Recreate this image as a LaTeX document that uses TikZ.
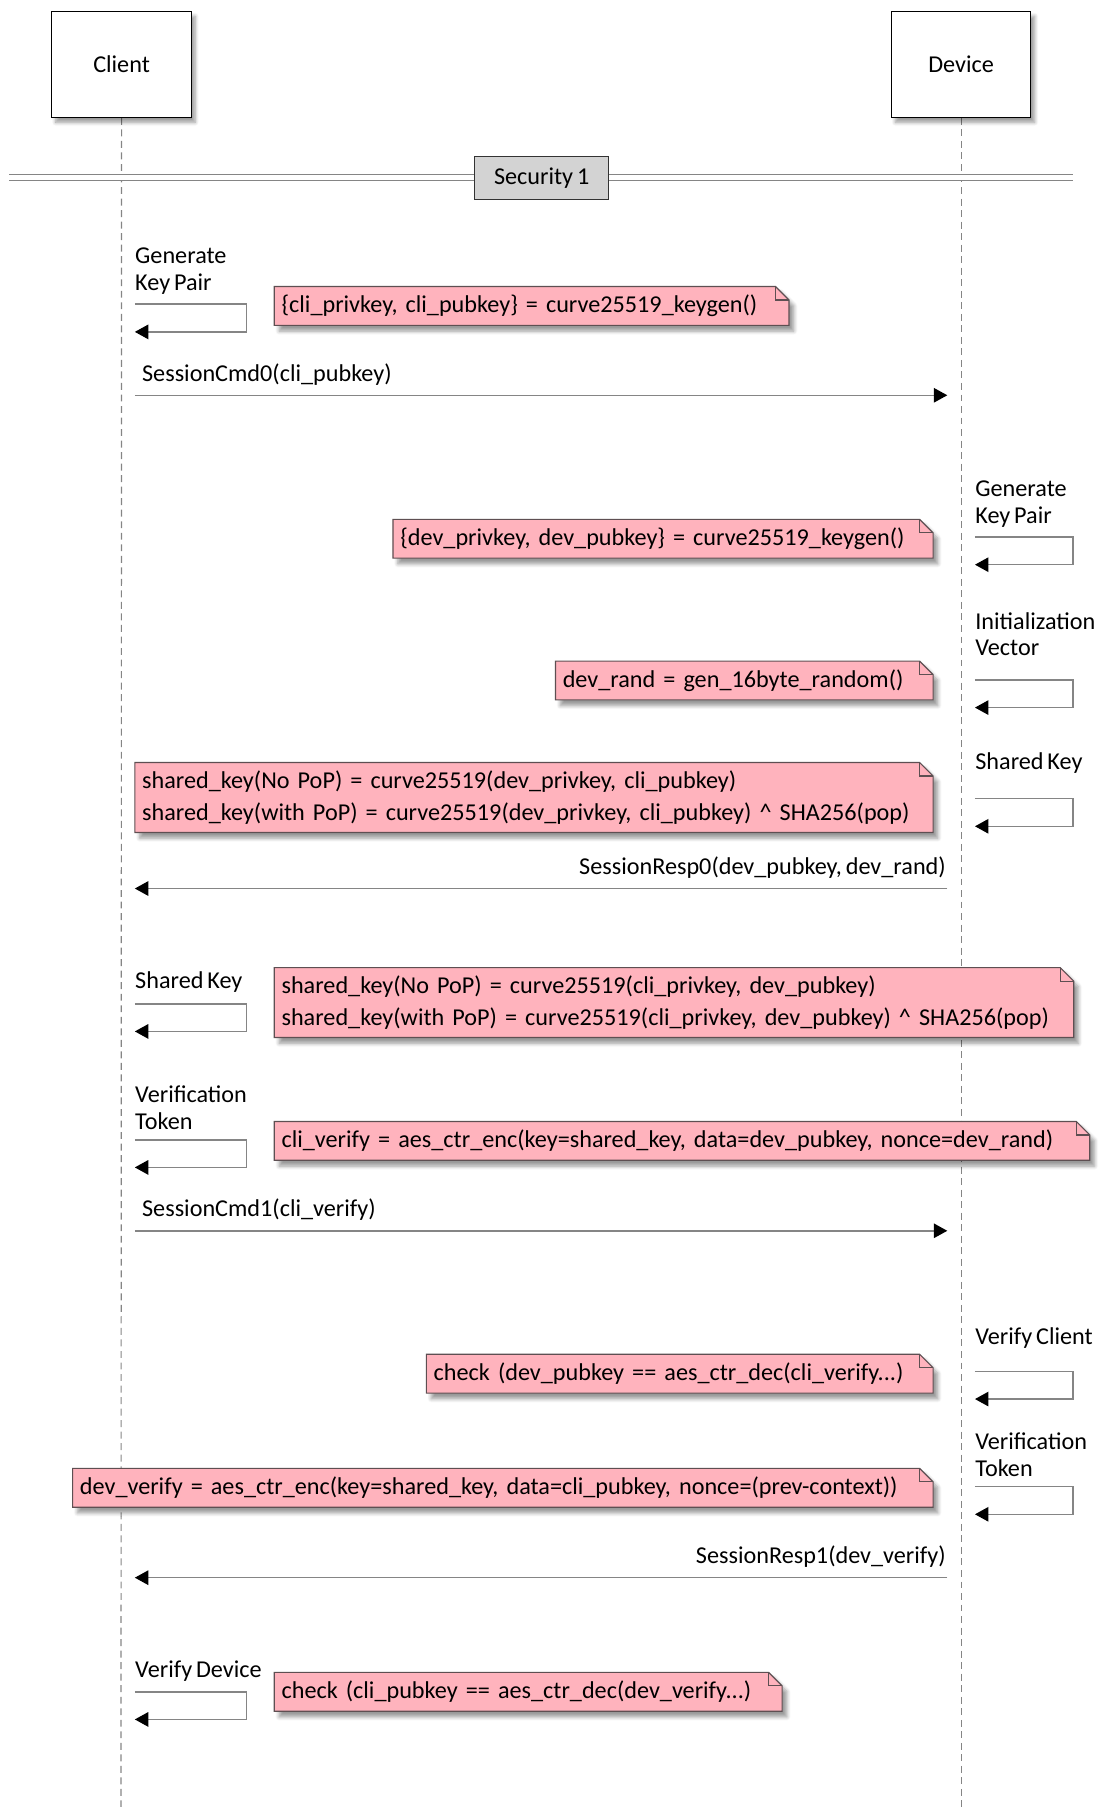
\documentclass[tikz,border=0pt]{standalone}
\usepackage{fontspec}
\setmainfont{Carlito}[WordSpace=0.7]
\usetikzlibrary{arrows.meta,backgrounds,shadows.blur}

\definecolor{notepink}{HTML}{FFB3BD}
\definecolor{noteedge}{HTML}{5E4F52}
\definecolor{sepgray}{HTML}{D3D3D3}
\definecolor{msggray}{HTML}{858585}

\newcommand\labelfont{\fontsize{12.6}{13.8}\selectfont}
\newcommand\memofont{\fontsize{12.6}{16.8}\selectfont}

\tikzset{
  actor/.style={draw=black, fill=white, minimum width=72.6pt, minimum height=55.2pt,
    blur shadow={shadow xshift=2pt, shadow yshift=-2.5pt, shadow blur steps=6}},
  lifeline/.style={draw=msggray, dash pattern=on 3.6pt off 2.4pt, line width=0.6pt},
  divider/.style={draw=msggray, line width=0.7pt, double=white, double distance=2.6pt},
  groupbox/.style={draw=black!80, fill=sepgray, minimum width=69.6pt, minimum height=22.2pt},
  msg/.style={draw=msggray, line width=0.8pt, -{Triangle[length=7pt, width=7.5pt, color=black]}},
  selfmsg/.style={msg},
  msglbl/.style={inner sep=0pt},
  selflbl/.style={inner sep=0pt, align=left, anchor=base west},
  memo/.style={inner xsep=3.6pt, inner ysep=0pt, align=left, font=\memofont,
    minimum height=19.8pt, anchor=west},
  memoline/.style={draw=noteedge, line width=0.6pt},
  memoshadow/.style={blur shadow={shadow xshift=2.5pt, shadow yshift=-3pt, shadow blur steps=6}}
}

% note with folded corner: [extra], name, west point, text width, text
\newcommand\memo[5][]{%
  \node[memo, text width=#4, #1] (#2) at (#3) {#5};
  \begin{scope}[on background layer]
    \fill[notepink, memoshadow] (#2.south west) -- (#2.north west)
      -- ([xshift=-7pt]#2.north east) -- ([yshift=-7pt]#2.north east)
      -- (#2.south east) -- cycle;
  \end{scope}
  \draw[memoline] (#2.south west) -- (#2.north west)
      -- ([xshift=-7pt]#2.north east) -- ([yshift=-7pt]#2.north east)
      -- (#2.south east) -- cycle;
  \draw[memoline] ([xshift=-7pt]#2.north east)
      -- ([xshift=-7pt,yshift=-7pt]#2.north east) -- ([yshift=-7pt]#2.north east);
}

\begin{document}
\begin{tikzpicture}[x=0.6pt, y=-0.6pt, font=\labelfont]
\useasboundingbox (0,0) rectangle (957,1568);

% participants
\node[actor] (client) at (105.5,56) {\raisebox{-3pt}{Client}};
\node[actor] (device) at (834,56) {\raisebox{-3pt}{Device}};
\coordinate (clientend) at (105,1568);
\coordinate (deviceend) at (834,1568);
\begin{scope}[on background layer]
  \draw[lifeline] (client.south) -- (clientend);
  \draw[lifeline] (device.south) -- (deviceend);
\end{scope}

% group divider
\coordinate (divl) at (8,154);
\coordinate (divr) at (931,154);
\draw[divider] (divl) -- (divr);
\node[groupbox] (sec1) at (470,154.5) {Security 1};

% self messages
\foreach \nm/\y in {ckp/264, csk/871, cvt/989, cvd/1468} {
  \coordinate (\nm a) at (117,\y);
  \coordinate (\nm b) at (117,\y+24);
  \draw[selfmsg] (\nm a) -- ++(97,0) |- (\nm b);
}
\foreach \nm/\y in {dkp/466, div/590, dsk/693, dvc/1190, dvt/1290} {
  \coordinate (\nm a) at (846,\y);
  \coordinate (\nm b) at (846,\y+24);
  \draw[selfmsg] (\nm a) -- ++(85,0) |- (\nm b);
}
\node[selflbl] (ckpl) at (117,252) {Generate\\Key Pair};
\node[selflbl] (cskl) at (117,858) {Shared Key};
\node[selflbl] (cvtl) at (117,980) {Verification\\Token};
\node[selflbl] (cvdl) at (117,1456) {Verify Device};
\node[selflbl] (dkpl) at (846,454) {Generate\\Key Pair};
\node[selflbl] (divl) at (846,569) {Initialization\\Vector};
\node[selflbl] (dskl) at (846,668) {Shared Key};
\node[selflbl] (dvcl) at (846,1167) {Verify Client};
\node[selflbl] (dvtl) at (846,1281) {Verification\\Token};

% notes
\memo{n1}{238,265.5}{260.4pt}{\{cli\_privkey, cli\_pubkey\} = curve25519\_keygen()}
\memo{n2}{341,467.5}{273.6pt}{\{dev\_privkey, dev\_pubkey\} = curve25519\_keygen()}
\memo{n3}{482,590.5}{189pt}{dev\_rand = gen\_16byte\_random()}
\memo[minimum height=36pt]{n4}{117,692}{408pt}{shared\_key(No PoP) = curve25519(dev\_privkey, cli\_pubkey)\\shared\_key(with PoP) = curve25519(dev\_privkey, cli\_pubkey) \textasciicircum{} SHA256(pop)}
\memo[minimum height=36pt]{n5}{238,870}{408.6pt}{shared\_key(No PoP) = curve25519(cli\_privkey, dev\_pubkey)\\shared\_key(with PoP) = curve25519(cli\_privkey, dev\_pubkey) \textasciicircum{} SHA256(pop)}
\memo{n6}{238,990}{417pt}{cli\_verify = aes\_ctr\_enc(key=shared\_key, data=dev\_pubkey, nonce=dev\_rand)}
\memo{n7}{370,1192}{256.2pt}{check (dev\_pubkey == aes\_ctr\_dec(cli\_verify...)}
\memo{n8}{63,1291}{440.4pt}{dev\_verify = aes\_ctr\_enc(key=shared\_key, data=cli\_pubkey, nonce=(prev-context))}
\memo{n9}{238,1468}{256.8pt}{check (cli\_pubkey == aes\_ctr\_dec(dev\_verify...)}

% messages
\coordinate (cmd0a) at (117,343);
\coordinate (cmd0b) at (822,343);
\draw[msg] (cmd0a) -- (cmd0b);
\node[msglbl, anchor=base west] (cmd0l) at (123,331) {SessionCmd0(cli\_pubkey)};

\coordinate (resp0a) at (822,771);
\coordinate (resp0b) at (117,771);
\draw[msg] (resp0a) -- (resp0b);
\node[msglbl, anchor=base east] (resp0l) at (821,759) {SessionResp0(dev\_pubkey, dev\_rand)};

\coordinate (cmd1a) at (117,1068);
\coordinate (cmd1b) at (822,1068);
\draw[msg] (cmd1a) -- (cmd1b);
\node[msglbl, anchor=base west] (cmd1l) at (123,1056) {SessionCmd1(cli\_verify)};

\coordinate (resp1a) at (822,1369);
\coordinate (resp1b) at (117,1369);
\draw[msg] (resp1a) -- (resp1b);
\node[msglbl, anchor=base east] (resp1l) at (821,1357) {SessionResp1(dev\_verify)};
\end{tikzpicture}
\end{document}
